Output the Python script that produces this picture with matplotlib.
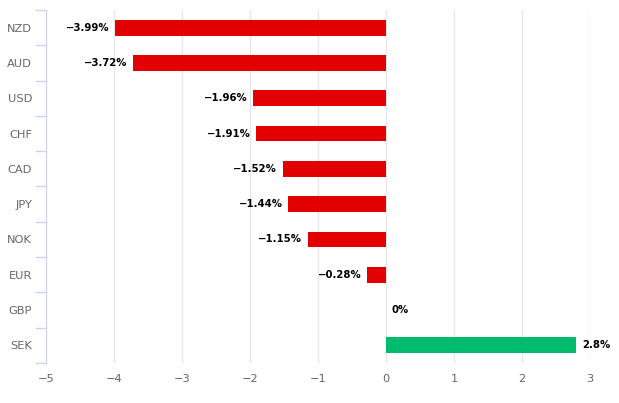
import numpy as np
import matplotlib.pyplot as plt

# валюты и изменение, %
currencies = ['NZD', 'AUD', 'USD', 'CHF', 'CAD', 'JPY', 'NOK', 'EUR', 'GBP', 'SEK']
changes = [-3.99, -3.72, -1.96, -1.91, -1.52, -1.44, -1.15, -0.28, 0.0, 2.8]
x_ticks = [-5, -4, -3, -2, -1, 0, 1, 2, 3]

fig = plt.figure(figsize=(6.19, 4.03), dpi=100)
ax = fig.add_axes([46 / 619, 1 - 363 / 403, 544 / 619, 353 / 403])

y = np.arange(len(currencies))
colors = ['#00bb6c' if v > 0 else '#e20000' for v in changes]
ax.barh(y, changes, height=0.45, color=colors, zorder=3)

# подписи значений
for yi, v in zip(y, changes):
    txt = ('%g%%' % v).replace('-', '\u2212')
    if v < 0:
        ax.text(v - 0.08, yi, txt, ha='right', va='center', fontsize=7.3,
                fontweight='bold', color='#000000', zorder=4)
    else:
        ax.text(v + 0.08, yi, txt, ha='left', va='center', fontsize=7.3,
                fontweight='bold', color='#000000', zorder=4, clip_on=False)

ax.set_xlim(-5, 3)
ax.set_ylim(len(currencies) - 0.5, -0.5)
ax.set_xticks(x_ticks)
ax.set_xticklabels([str(t).replace('-', '\u2212') for t in x_ticks])
ax.grid(axis='x', color='#e6e6e6', linewidth=1, zorder=0)

ax.set_yticks(y)
ax.set_yticklabels(currencies)
ax.set_yticks(np.arange(len(currencies) + 1) - 0.5, minor=True)
ax.tick_params(axis='y', which='major', length=0, pad=10, labelsize=8.2, labelcolor='#666666')
ax.tick_params(axis='y', which='minor', length=8, color='#ccd6eb', width=1)
ax.tick_params(axis='x', length=0, pad=8, labelsize=8.2, labelcolor='#666666')

for side in ['top', 'right', 'bottom']:
    ax.spines[side].set_visible(False)
ax.spines['left'].set_color('#ccd6eb')

plt.savefig('out.png', dpi=100)
